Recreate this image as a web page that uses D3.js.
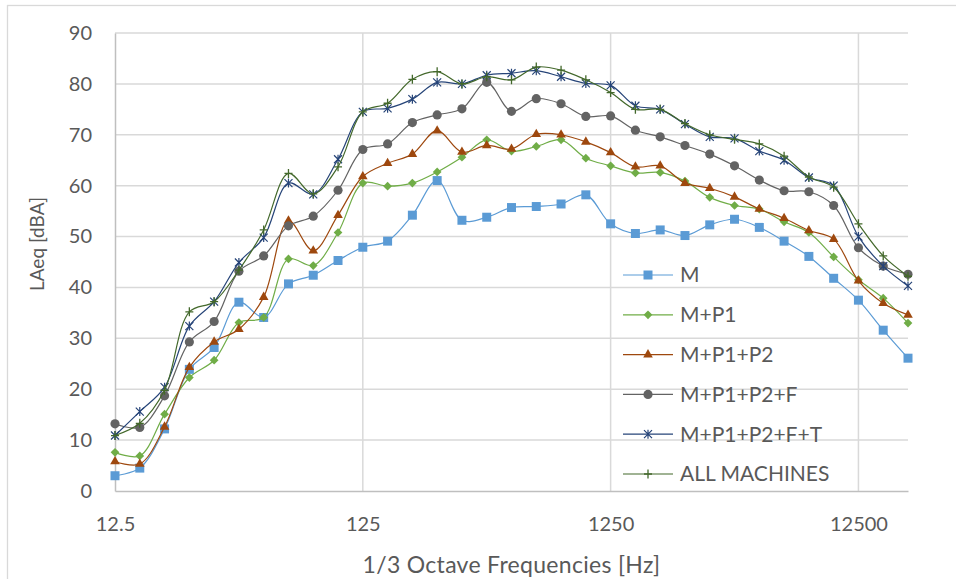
<!DOCTYPE html>
<html>
<head>
<meta charset="utf-8">
<script src="https://cdn.jsdelivr.net/npm/d3@7"></script>
<style>
  body { margin: 0; background: #fff; }
  svg { display: block; font-family: Lato, "Open Sans", sans-serif; }
</style>
</head>
<body>
<div id="viz-container"></div>
<script>
// 1/3 octave band centres (Hz)
const freqs = [12.5, 16, 20, 25, 31.5, 40, 50, 63, 80, 100, 125, 160, 200, 250, 315, 400, 500,
    630, 800, 1000, 1250, 1600, 2000, 2500, 3150, 4000, 5000, 6300, 8000, 10000, 12500, 16000, 20000];
const xTickLabels = [12.5, 125, 1250, 12500];
const yTicks = [0, 10, 20, 30, 40, 50, 60, 70, 80, 90];

const seriesNames = ["M", "M+P1", "M+P1+P2", "M+P1+P2+F", "M+P1+P2+F+T", "ALL MACHINES"];

const valsM = [3.0, 4.5, 12.2, 23.9, 28.2, 37.1, 34.1, 40.7, 42.4, 45.3, 47.9, 49.1, 54.2, 61.0, 53.2, 53.8, 55.7,
    55.9, 56.4, 58.2, 52.5, 50.6, 51.3, 50.2, 52.3, 53.4, 51.8, 49.1, 46.1, 41.8, 37.5, 31.6, 26.1];
const valsP1 = [7.6, 6.9, 15.1, 22.3, 25.7, 33.1, 34.1, 45.6, 44.3, 50.8, 60.5, 59.9, 60.5, 62.7, 65.6, 69.0, 66.8,
    67.7, 69.0, 65.4, 63.9, 62.5, 62.6, 60.9, 57.7, 56.1, 55.4, 52.9, 50.8, 46.0, 41.5, 37.9, 33.0];
const valsP2 = [5.8, 5.3, 12.6, 24.3, 29.3, 31.8, 38.1, 53.1, 47.2, 54.2, 61.8, 64.4, 66.2, 70.8, 66.6, 67.9, 67.2,
    70.1, 70.0, 68.6, 66.5, 63.7, 63.9, 60.5, 59.5, 57.8, 55.4, 53.6, 51.2, 49.5, 41.3, 36.9, 34.6];
const valsF = [13.2, 12.5, 18.7, 29.3, 33.3, 43.2, 46.2, 52.1, 54.0, 59.1, 67.1, 68.2, 72.4, 73.9, 75.1, 80.3, 74.6,
    77.1, 76.1, 73.6, 73.7, 70.9, 69.6, 67.9, 66.2, 63.9, 61.1, 59.0, 58.8, 56.1, 47.8, 44.2, 42.6];
const valsT = [10.9, 15.6, 20.4, 32.4, 37.2, 44.9, 49.8, 60.5, 58.3, 65.2, 74.5, 75.2, 77.0, 80.3, 80.0, 81.7, 82.1,
    82.6, 81.4, 80.1, 79.7, 75.7, 75.0, 72.1, 69.6, 69.3, 66.8, 65.0, 61.6, 60.0, 50.0, 44.2, 40.3];
const valsAll = [10.9, 13.3, 19.8, 35.2, 37.2, 43.4, 51.3, 62.4, 58.4, 63.7, 74.5, 76.2, 80.9, 82.4, 80.0, 81.4, 80.8,
    83.3, 82.7, 80.8, 78.3, 75.0, 75.0, 72.2, 70.0, 69.1, 68.2, 65.8, 61.7, 59.7, 52.5, 46.2, 42.2];

const allValues = [valsM, valsP1, valsP2, valsF, valsT, valsAll];

// marker / colour per series
const styles = [
    { color: "#5B9BD5", marker: "square" },
    { color: "#70AD47", marker: "diamond" },
    { color: "#9E480E", marker: "triangle" },
    { color: "#636363", marker: "circle" },
    { color: "#264478", marker: "star" },
    { color: "#43682B", marker: "plus" }
];

const W = 956, H = 579;
const margin = { top: 33, right: 48, bottom: 88, left: 115 },
    width = W - margin.left - margin.right,
    height = H - margin.top - margin.bottom;

const svg = d3.select("#viz-container").append("svg")
    .attr("width", W)
    .attr("height", H);

// chart border (Excel chart area)
svg.append("rect")
    .attr("x", 7.5).attr("y", 5.5)
    .attr("width", 1000).attr("height", 1000)
    .attr("fill", "none")
    .attr("stroke", "#d9d9d9")
    .attr("stroke-width", 1.3);

const chart = svg.append("g")
    .attr("transform", `translate(${margin.left},${margin.top})`);

const x = d3.scalePoint()
    .domain(freqs)
    .range([0, width]);
const y = d3.scaleLinear()
    .domain([0, 90])
    .range([height, 0]);

// gridlines
chart.append("g")
    .selectAll("line")
    .data(yTicks.filter(d => d > 0))
    .enter().append("line")
    .attr("x1", 0).attr("x2", width)
    .attr("y1", d => y(d)).attr("y2", d => y(d))
    .attr("stroke", "#d9d9d9")
    .attr("stroke-width", 1.5);

chart.append("g")
    .selectAll("line")
    .data(xTickLabels.filter(d => d !== 12.5))
    .enter().append("line")
    .attr("x1", d => x(d)).attr("x2", d => x(d))
    .attr("y1", 0).attr("y2", height)
    .attr("stroke", "#d9d9d9")
    .attr("stroke-width", 1.5);

// axes
const xAxis = chart.append("g")
    .attr("transform", `translate(0,${height})`)
    .call(d3.axisBottom(x).tickValues(xTickLabels).tickSize(0).tickPadding(26));
const yAxis = chart.append("g")
    .call(d3.axisLeft(y).tickValues(yTicks).tickSize(0).tickPadding(23));

[xAxis, yAxis].forEach(ax => {
    ax.select(".domain").attr("stroke", "#bfbfbf").attr("stroke-width", 1.5);
    ax.selectAll("text")
        .attr("fill", "#595959")
        .style("font-size", "20px")
        .style("font-family", "Lato, 'Open Sans', sans-serif");
});

// axis titles
svg.append("text")
    .attr("x", margin.left + width / 2)
    .attr("y", 573)
    .attr("text-anchor", "middle")
    .attr("fill", "#595959")
    .style("font-size", "23px")
    .style("letter-spacing", "0.3px")
    .text("1/3 Octave Frequencies [Hz]");

svg.append("text")
    .attr("transform", "translate(44,244) rotate(-90)")
    .attr("text-anchor", "middle")
    .attr("fill", "#595959")
    .style("font-size", "19px")
    .text("LAeq [dBA]");

// marker drawing
function drawMarker(g, kind, color) {
    if (kind === "square") {
        g.append("path").attr("d", d3.symbol(d3.symbolSquare, 81)())
            .attr("fill", color);
    } else if (kind === "diamond") {
        g.append("path").attr("d", d3.symbol(d3.symbolSquare, 38)())
            .attr("transform", "rotate(45)")
            .attr("fill", color);
    } else if (kind === "triangle") {
        g.append("path").attr("d", d3.symbol(d3.symbolTriangle, 40)())
            .attr("fill", color);
    } else if (kind === "circle") {
        g.append("path").attr("d", d3.symbol(d3.symbolCircle, 66)())
            .attr("fill", color);
    } else if (kind === "star") {
        g.append("path").attr("d", "M-4,-4L4,4M-4,4L4,-4M0,-4.5V4.5")
            .attr("fill", "none").attr("stroke", color).attr("stroke-width", 1.2);
    } else if (kind === "plus") {
        g.append("path").attr("d", "M-4,0H4M0,-4.5V4.5")
            .attr("fill", "none").attr("stroke", color).attr("stroke-width", 1.3);
    }
}

const line = d3.line()
    .x((d, i) => x(freqs[i]))
    .y(d => y(d))
    .curve(d3.curveCatmullRom.alpha(0.5));

allValues.forEach((vals, k) => {
    const st = styles[k];
    const g = chart.append("g").attr("class", "series");
    g.append("path")
        .datum(vals)
        .attr("d", line)
        .attr("fill", "none")
        .attr("stroke", st.color)
        .attr("stroke-width", 1.2);
    g.selectAll("g.mk")
        .data(vals)
        .enter().append("g")
        .attr("class", "mk")
        .attr("transform", (d, i) => `translate(${x(freqs[i])},${y(d)})`)
        .each(function () { drawMarker(d3.select(this), st.marker, st.color); });
});

// legend
const legend = svg.append("g")
    .attr("transform", "translate(623,275)");
seriesNames.forEach((name, k) => {
    const st = styles[k];
    const row = legend.append("g").attr("transform", `translate(0,${k * 39.8})`);
    row.append("line")
        .attr("x1", 0).attr("x2", 50)
        .attr("stroke", st.color).attr("stroke-width", 1.2);
    drawMarker(row.append("g").attr("transform", "translate(25,0)"), st.marker, st.color);
    row.append("text")
        .attr("x", 57)
        .attr("dy", "0.35em")
        .attr("fill", "#595959")
        .style("font-size", "21px")
        .text(name);
});
</script>
</body>
</html>
